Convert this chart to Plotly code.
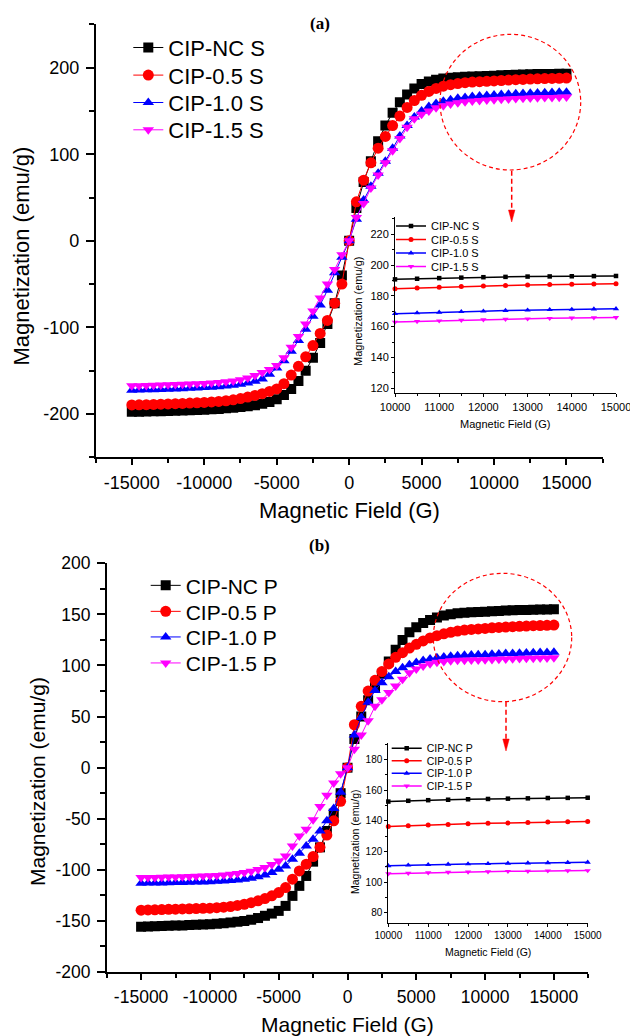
import plotly.graph_objects as go

W, H = 630, 1036


def px(x):
    return x / W


def py(y):
    return 1 - y / H


# ---------------- data ----------------
field_G = [-15000, -14500, -14000, -13500, -13000, -12500, -12000, -11500, -11000, -10500,
           -10000, -9500, -9000, -8500, -8000, -7500, -7000, -6500, -6000, -5500,
           -5000, -4500, -4000, -3500, -3000, -2500, -2000, -1500, -1000, -500,
           0,
           500, 1000, 1500, 2000, 2500, 3000, 3500, 4000, 4500, 5000,
           5500, 6000, 6500, 7000, 7500, 8000, 8500, 9000, 9500, 10000,
           10500, 11000, 11500, 12000, 12500, 13000, 13500, 14000, 14500, 15000]

# panel (a) - S samples (emu/g)
cip_nc_s = [-197.5, -197.3, -197.1, -196.9, -196.7, -196.5, -196.2, -196.0, -195.7, -195.4,
            -195.0, -194.6, -194.1, -193.5, -192.8, -192.0, -191.0, -189.8, -188.2, -186.0,
            -183.0, -178.0, -171.0, -162.0, -150.0, -135.0, -118.0, -96.0, -72.0, -40.0,
            0.0,
            38.0, 68.0, 92.0, 115.0, 133.0, 148.0, 160.0, 169.0, 176.0, 181.0,
            184.0, 186.0, 187.3, 188.2, 188.9, 189.4, 189.8, 190.1, 190.4, 190.7,
            191.1, 191.5, 191.8, 192.1, 192.3, 192.5, 192.6, 192.7, 192.8, 192.9]
cip_05_s = [-189.5, -189.4, -189.2, -189.0, -188.7, -188.4, -188.1, -187.8, -187.4, -187.0,
            -186.6, -186.1, -185.5, -184.7, -183.6, -182.2, -180.5, -178.5, -176.5, -174.0,
            -171.0, -165.0, -155.0, -145.0, -134.0, -121.0, -107.0, -92.0, -72.0, -50.0,
            0.0,
            45.0, 70.0, 90.0, 107.0, 120.5, 133.0, 144.0, 154.0, 162.0, 168.0,
            172.5, 176.0, 178.5, 180.3, 181.6, 182.6, 183.3, 183.8, 184.2, 184.6,
            185.1, 185.6, 186.0, 186.4, 186.7, 187.0, 187.3, 187.5, 187.7, 187.9]
cip_10_s = [-172.5, -172.3, -172.1, -171.9, -171.6, -171.3, -171.0, -170.7, -170.3, -169.9,
            -169.5, -169.0, -168.4, -167.7, -166.8, -165.7, -164.2, -162.3, -159.6, -154.0,
            -147.0, -138.4, -127.6, -115.0, -102.0, -87.0, -74.0, -57.0, -37.0, -19.0,
            0.0,
            25.0, 47.0, 63.0, 78.0, 92.0, 107.0, 121.0, 133.0, 143.0, 150.0,
            155.0, 158.5, 161.0, 163.0, 164.5, 165.6, 166.5, 167.3, 167.9, 168.4,
            168.9, 169.3, 169.7, 170.0, 170.4, 170.7, 171.0, 171.2, 171.4, 171.6]
cip_15_s = [-167.5, -167.3, -167.1, -166.9, -166.6, -166.3, -166.0, -165.7, -165.4, -165.1,
            -164.7, -164.2, -163.6, -162.9, -161.8, -160.4, -158.5, -155.6, -152.0, -148.5,
            -144.0, -135.0, -123.0, -110.6, -96.0, -81.0, -66.0, -50.0, -33.0, -16.0,
            0.0,
            27.0, 43.0, 61.0, 76.0, 90.0, 104.0, 118.0, 131.0, 141.0, 146.0,
            150.0, 153.5, 156.0, 158.0, 159.5, 160.6, 161.4, 162.0, 162.5, 163.0,
            163.4, 163.8, 164.2, 164.5, 164.8, 165.1, 165.4, 165.6, 165.8, 166.0]

# panel (b) - P samples (emu/g)
cip_nc_p = [-155.6, -155.4, -155.2, -155.0, -154.8, -154.6, -154.4, -154.1, -153.8, -153.5,
            -153.2, -152.8, -152.3, -151.6, -150.9, -150.0, -148.8, -147.2, -145.0, -142.8,
            -140.2, -135.3, -125.5, -115.7, -106.0, -92.0, -78.0, -62.0, -45.0, -25.0,
            0.0,
            28.0, 50.0, 66.0, 79.0, 92.0, 104.0, 115.5, 125.0, 132.5, 137.5,
            141.5, 144.5, 147.0, 148.8, 150.1, 151.0, 151.6, 152.0, 152.3, 152.5,
            153.0, 153.4, 153.7, 154.0, 154.2, 154.4, 154.6, 154.8, 154.9, 155.0]
cip_05_p = [-139.5, -139.3, -139.1, -138.9, -138.7, -138.5, -138.3, -138.1, -137.9, -137.7,
            -137.5, -137.1, -136.6, -135.9, -134.9, -133.7, -132.2, -130.3, -128.1, -125.4,
            -122.3, -117.4, -109.2, -101.1, -94.5, -87.0, -78.0, -66.0, -52.0, -33.0,
            0.0,
            42.0, 60.0, 75.0, 85.5, 94.0, 101.5, 108.0, 112.5, 117.0, 120.7,
            124.0, 127.0, 129.2, 131.0, 132.5, 133.7, 134.6, 135.3, 135.8, 136.3,
            136.8, 137.2, 137.6, 138.0, 138.3, 138.6, 138.9, 139.1, 139.3, 139.5]
cip_10_p = [-113.1, -113.0, -112.9, -112.8, -112.7, -112.5, -112.4, -112.2, -112.0, -111.8,
            -111.6, -111.3, -111.0, -110.5, -109.9, -109.2, -108.2, -106.8, -105.0, -102.5,
            -99.4, -96.2, -89.6, -83.8, -76.6, -70.0, -62.0, -52.0, -40.0, -24.0,
            0.0,
            32.0, 49.0, 64.0, 75.5, 83.0, 89.0, 94.0, 97.7, 100.6, 103.0,
            104.9, 106.4, 107.5, 108.4, 109.1, 109.6, 110.0, 110.2, 110.4, 110.6,
            111.0, 111.3, 111.6, 111.8, 112.0, 112.2, 112.4, 112.6, 112.7, 112.9]
cip_15_p = [-107.6, -107.5, -107.4, -107.3, -107.1, -106.9, -106.7, -106.5, -106.3, -106.1,
            -105.9, -105.5, -105.0, -104.3, -103.6, -102.7, -101.5, -99.8, -97.8, -94.8,
            -91.3, -86.4, -76.6, -66.8, -60.3, -51.0, -38.0, -27.0, -15.0, -6.0,
            0.0,
            18.0, 32.0, 46.0, 60.0, 66.5, 73.5, 80.0, 86.5, 93.0, 96.5,
            99.5, 101.8, 103.2, 104.0, 104.6, 105.0, 105.2, 105.3, 105.4, 105.5,
            105.8, 106.1, 106.4, 106.6, 106.8, 107.0, 107.1, 107.3, 107.4, 107.5]

names_s = ["CIP-NC S", "CIP-0.5 S", "CIP-1.0 S", "CIP-1.5 S"]
names_p = ["CIP-NC P", "CIP-0.5 P", "CIP-1.0 P", "CIP-1.5 P"]
colors = ["#000000", "#FF0000", "#0000FF", "#FF00FF"]
symbols = ["square", "circle", "triangle-up", "triangle-down"]

main_x_ticks = [-15000, -10000, -5000, 0, 5000, 10000, 15000]
main_x_minor = [-17500, -12500, -7500, -2500, 2500, 7500, 12500, 17500]
a_y_ticks = [-200, -100, 0, 100, 200]
a_y_minor = [-250, -150, -50, 50, 150, 250]
b_y_ticks = [-200, -150, -100, -50, 0, 50, 100, 150, 200]
b_y_minor = [-175, -125, -75, -25, 25, 75, 125, 175]
inset_x_ticks = [10000, 11000, 12000, 13000, 14000, 15000]
inset_x_minor = [10500, 11500, 12500, 13500, 14500]
inset_a_y_ticks = [120, 140, 160, 180, 200, 220]
inset_a_y_minor = [130, 150, 170, 190, 210, 230]
inset_b_y_ticks = [80, 100, 120, 140, 160, 180]
inset_b_y_minor = [90, 110, 130, 150, 170, 190]
inset_start = 10000

FONT = "Liberation Sans, Arial, sans-serif"

fig = go.Figure()

main_sizes = [10, 11, 10, 10]
inset_sizes = [4.5, 5, 5.5, 5.5]

legend_count = [0]


def add_series(xs, ys, name, color, symbol, size, xa, ya, lw, clip):
    legend_count[0] += 1
    k = legend_count[0]
    lg = "legend" if k == 1 else f"legend{k}"
    fig.add_trace(go.Scatter(
        x=xs, y=ys, name=name, mode="lines+markers",
        line=dict(color=color, width=lw),
        marker=dict(symbol=symbol, size=size, color=color, line=dict(width=0)),
        xaxis=xa, yaxis=ya, legend=lg, cliponaxis=clip))
    return lg


sets = [
    ("a", names_s, [cip_nc_s, cip_05_s, cip_10_s, cip_15_s], "x", "y", "x2", "y2"),
    ("b", names_p, [cip_nc_p, cip_05_p, cip_10_p, cip_15_p], "x3", "y3", "x4", "y4"),
]

legend_layout = {}
# legend row centres (px) and text-start x (px)
leg_pos = {
    ("a", "main"): (168.3, [47.7, 75.3, 102.7, 130.0], 22),
    ("a", "inset"): (431.0, [226.0, 239.5, 253.0, 266.5], 11),
    ("b", "main"): (185.7, [585.7, 611.7, 637.3, 663.3], 21),
    ("b", "inset"): (426.7, [748.3, 760.8, 773.3, 786.0], 10.5),
}

for tag, names, series, xm, ym, xi, yi in sets:
    tx, rows, fs = leg_pos[(tag, "main")]
    for i in range(4):
        lg = add_series(field_G, series[i], names[i], colors[i], symbols[i],
                        main_sizes[i], xm, ym, 1, True)
        legend_layout[lg] = dict(x=px(tx - 40), y=py(rows[i]), xanchor="left", yanchor="middle",
                                 bgcolor="rgba(0,0,0,0)", borderwidth=0, itemsizing="trace",
                                 font=dict(family=FONT, size=fs, color="black"))
    tx, rows, fs = leg_pos[(tag, "inset")]
    for i in range(4):
        xs = [h for h in field_G if h >= inset_start]
        ys = [m for h, m in zip(field_G, series[i]) if h >= inset_start]
        lg = add_series(xs, ys, names[i], colors[i], symbols[i],
                        inset_sizes[i], xi, yi, 1.5, False)
        legend_layout[lg] = dict(x=px(tx - 40), y=py(rows[i]), xanchor="left", yanchor="middle",
                                 bgcolor="rgba(0,0,0,0)", borderwidth=0, itemsizing="trace",
                                 font=dict(family=FONT, size=fs, color="black"))


def axis(domain, rng, tickvals, minorvals, anchor, fs, ticklen, minorlen, lw, standoff=0):
    return dict(domain=domain, range=rng, anchor=anchor, automargin=False,
                tickmode="array", tickvals=tickvals, ticktext=[str(v) for v in tickvals],
                ticks="outside", ticklen=ticklen, tickwidth=lw, tickcolor="black",
                minor=dict(tickmode="array", tickvals=minorvals, ticks="outside",
                           ticklen=minorlen, tickwidth=lw, tickcolor="black"),
                showline=True, linecolor="black", linewidth=lw, mirror=False,
                showgrid=False, zeroline=False, ticklabelstandoff=standoff,
                ticklabeloverflow="allow",
                tickfont=dict(family=FONT, size=fs, color="black"))


layout = dict(
    width=W, height=H, margin=dict(l=0, r=0, t=0, b=0, pad=0, autoexpand=False),
    paper_bgcolor="white", plot_bgcolor="rgba(0,0,0,0)",
    xaxis=axis([px(95.6), px(602.7)], [-17500, 17500], main_x_ticks, main_x_minor, "y", 18, 6, 4, 1.5, 2),
    yaxis=axis([py(457.3), py(24.3)], [-250, 250], a_y_ticks, a_y_minor, "x", 18, 8, 4.5, 1.5, 3),
    xaxis2=axis([px(395), px(616)], [10000, 15000], inset_x_ticks, inset_x_minor, "y2", 11, 3, 2, 1),
    yaxis2=axis([py(393.3), py(217.3)], [116.7, 231.0], inset_a_y_ticks, inset_a_y_minor, "x2", 11, 3, 2, 1),
    xaxis3=axis([px(106.7), px(588.3)], [-17500, 17500], main_x_ticks, main_x_minor, "y3", 17.5, 6, 4, 1.5, 2),
    yaxis3=axis([py(972), py(563.3)], [-200, 200], b_y_ticks, b_y_minor, "x3", 17.5, 8, 4.5, 1.5, 3),
    xaxis4=axis([px(388.3), px(587.7)], [10000, 15000], inset_x_ticks, inset_x_minor, "y4", 10, 3, 2, 1),
    yaxis4=axis([py(922.7), py(743.3)], [73.5, 190.5], inset_b_y_ticks, inset_b_y_minor, "x4", 10, 3, 2, 1),
    showlegend=True,
)
layout.update(legend_layout)
fig.update_layout(**layout)


def ann(text, x, y, size, angle=0, family=FONT, bold=False):
    t = f"<b>{text}</b>" if bold else text
    fig.add_annotation(text=t, x=px(x), y=py(y), xref="paper", yref="paper",
                       showarrow=False, textangle=angle, xanchor="center", yanchor="middle",
                       font=dict(family=family, size=size, color="black"))


SERIF = "Liberation Serif, Times New Roman, serif"
ann("(a)", 320, 23, 17, family=SERIF, bold=True)
ann("(b)", 319, 545, 17, family=SERIF, bold=True)
ann("Magnetic Field (G)", 349, 511, 22)
ann("Magnetization (emu/g)", 21, 256.5, 22, angle=-90)
ann("Magnetic Field (G)", 505, 424, 11)
ann("Magnetization (emu/g)", 358, 312, 11, angle=-90)
ann("Magnetic Field (G)", 347, 1024, 21)
ann("Magnetization (emu/g)", 37, 782, 21, angle=-90)
ann("Magnetic Field (G)", 488, 952, 10.5)
ann("Magnetization (emu/g)", 355, 842, 10.5, angle=-90)

# zoom circles and arrows
red = "#FF0000"
for (x0, y0, x1, y1, ax, ay0, ay1) in [(440, 34.3, 580.7, 170, 511.7, 170.7, 211),
                                        (433.3, 573.3, 571.7, 701.7, 506, 701.7, 740)]:
    fig.add_shape(type="circle", xref="paper", yref="paper",
                  x0=px(x0), x1=px(x1), y0=py(y1), y1=py(y0),
                  line=dict(color=red, width=1.2, dash="4px,3px"))
    fig.add_shape(type="line", xref="paper", yref="paper",
                  x0=px(ax), x1=px(ax), y0=py(ay0), y1=py(ay1),
                  line=dict(color=red, width=1.5, dash="5px,3px"))
    fig.add_shape(type="path", xref="paper", yref="paper",
                  path=f"M {px(ax-3.2)},{py(ay1-1)} L {px(ax+3.2)},{py(ay1-1)} L {px(ax)},{py(ay1+11)} Z",
                  fillcolor=red, line=dict(color=red, width=0.5))

fig.write_html(
    "out.html",
    config={"displayModeBar": False},
    post_script="document.body.style.margin='0';document.body.style.overflow='hidden';",
)
